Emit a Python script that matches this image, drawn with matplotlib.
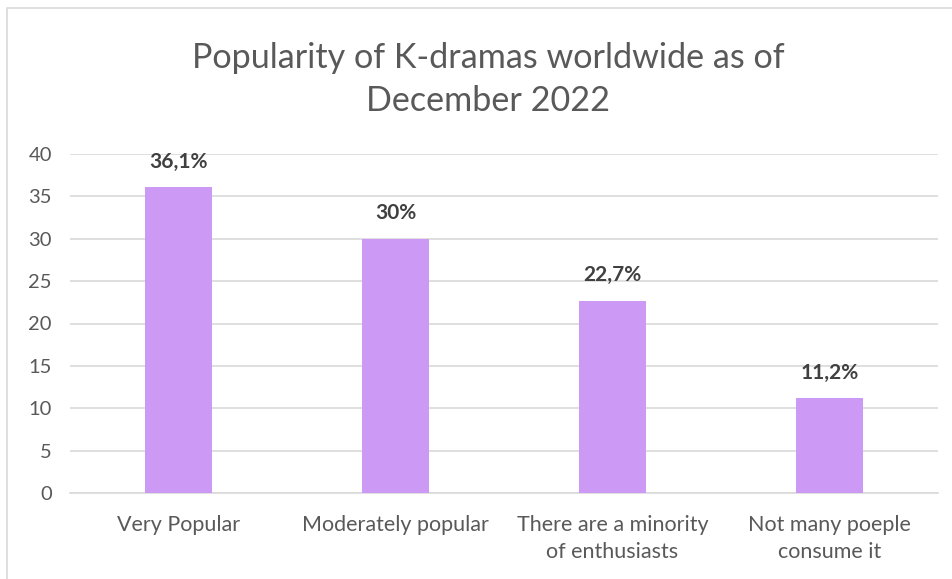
import matplotlib
matplotlib.use("Agg")
import matplotlib.pyplot as plt
from matplotlib.patches import Rectangle

categories = ["Very Popular", "Moderately popular", "There are a minority\nof enthusiasts", "Not many poeple\nconsume it"]
values = [36.1, 30, 22.7, 11.2]
labels = ["36,1%", "30%", "22,7%", "11,2%"]
yticks = [0, 5, 10, 15, 20, 25, 30, 35, 40]

plt.rcParams['font.family'] = ['Lato', 'DejaVu Sans']
txt = "#595959"

W, H = 953, 579
fig = plt.figure(figsize=(W/100, H/100), dpi=100)
fig.patch.set_facecolor("white")

# chart border
fig.add_artist(Rectangle((7/W, -0.01), 1.0, 1 - 8/H + 0.01, transform=fig.transFigure,
                         fill=False, edgecolor="#D9D9D9", linewidth=1.2))

ax = fig.add_axes([70/W, 1 - 493/H, (938-70)/W, (493-154)/H])
x = range(len(categories))
ax.bar(x, values, width=0.313, color="#CC99F5", zorder=3)
ax.set_xlim(-0.5, 3.5)
ax.set_ylim(0, 40)
ax.set_yticks(yticks)
ax.yaxis.grid(True, color="#D9D9D9", linewidth=1.2, zorder=0)
ax.set_axisbelow(True)
for s in ["top", "right", "left"]:
    ax.spines[s].set_visible(False)
ax.spines["bottom"].set_color("#D9D9D9")
ax.spines["bottom"].set_linewidth(1.2)
ax.tick_params(axis="y", length=0, pad=13, labelsize=14.5, labelcolor=txt)
ax.tick_params(axis="x", length=0, pad=16, labelsize=15.5, labelcolor=txt)
ax.set_xticks(list(x))
ax.set_xticklabels(categories, linespacing=1.45)

for i, (v, l) in enumerate(zip(values, labels)):
    ax.annotate(l, (i, v), xytext=(0, 11), textcoords="offset points",
                ha="center", va="bottom", fontsize=15, fontweight="bold", color="#404040")

fig.text(488/W, 1 - 58/H, "Popularity of K-dramas worldwide as of", ha="center", va="center",
         fontsize=24.6, color=txt)
fig.text(488/W, 1 - 101/H, "December 2022", ha="center", va="center",
         fontsize=24.6, color=txt)

fig.savefig("out.png", dpi=100)
